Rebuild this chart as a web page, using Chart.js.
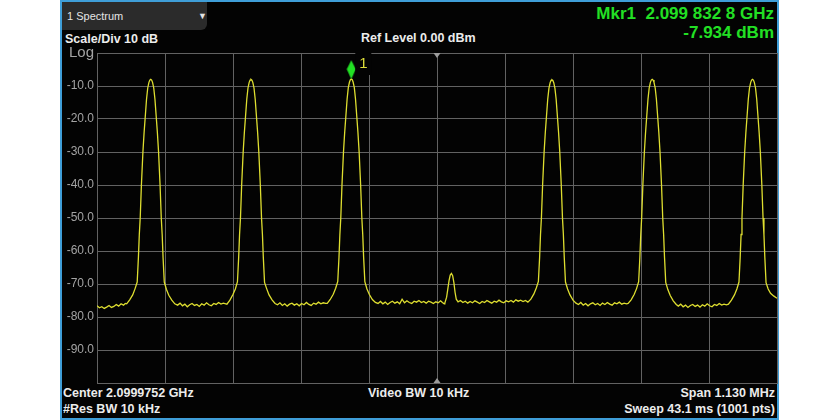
<!DOCTYPE html>
<html>
<head>
<meta charset="utf-8">
<script src="https://cdn.jsdelivr.net/npm/chart.js@4.4.1/dist/chart.umd.min.js"></script>
<style>
  html, body { margin:0; padding:0; background:#fff; }
  #wrap { position:relative; width:840px; height:420px; overflow:hidden; font-family:"Liberation Sans", Arial, sans-serif; }
  #panel { position:absolute; left:60px; top:0; width:719px; height:420px; box-sizing:border-box; border:2px solid #3f9ed8; background:#030303; }
  #chart { position:absolute; left:0; top:0; }
  .t { position:absolute; white-space:pre; color:#ececec; font-weight:bold; }
  .mk { color:#22e024; font-size:17px; line-height:20px; }
  #tab { position:absolute; left:62px; top:2px; width:145px; height:28px; background:#2b2b2b; border-bottom-right-radius:6px; }
</style>
</head>
<body>
<div id="wrap">
  <div id="panel"></div>
  <div id="tab"></div>
  <div class="t" style="left:67px;top:9px;font-size:11px;line-height:14px;font-weight:normal;color:#e4e4e4;">1 Spectrum</div>
  <div class="t" style="left:198px;top:10px;font-size:9px;line-height:12px;color:#e4e4e4;">▼</div>
  <div class="t" style="left:65px;top:31px;font-size:12.5px;line-height:16px;">Scale/Div 10 dB</div>
  <div class="t" style="left:361px;top:30px;font-size:12.5px;line-height:16px;">Ref Level 0.00 dBm</div>
  <div class="t mk" style="right:66px;top:4px;">Mkr1  2.099 832 8 GHz</div>
  <div class="t mk" style="right:66px;top:23px;">-7.934 dBm</div>
  <div class="t" style="left:63px;top:385px;font-size:12.5px;line-height:16px;">Center 2.0999752 GHz</div>
  <div class="t" style="left:63px;top:401px;font-size:12.5px;line-height:16px;">#Res BW 10 kHz</div>
  <div class="t" style="left:368px;top:385px;font-size:12.5px;line-height:16px;">Video BW 10 kHz</div>
  <div class="t" style="right:65px;top:385px;font-size:12.5px;line-height:16px;">Span 1.130 MHz</div>
  <div class="t" style="right:65px;top:401px;font-size:12.5px;line-height:16px;">Sweep 43.1 ms (1001 pts)</div>
  <canvas id="chart" width="840" height="420"></canvas>
</div>
<script>
// frequency offset from center (kHz), level (dBm)
const floorLeft = [[-565,-76.6],[-561,-77.2],[-557,-76.9],[-553,-77.4],[-549,-77.0],[-545,-76.5],[-541,-77.1],[-537,-76.8],[-533,-76.2],[-529,-76.7],[-525,-76.0],[-521,-76.4],[-518,-75.9]];
const peak1 = [[-515.7,-76.0],[-510.7,-74.8],[-505.7,-73.3],[-501.7,-71.4],[-498.2,-69.4],[-496.2,-62.0],[-494.7,-55.0],[-493.2,-50.0],[-491.2,-40.0],[-488.7,-30.0],[-486.7,-24.0],[-484.7,-19.0],[-482.7,-14.0],[-480.7,-10.6],[-478.7,-8.9],[-477.2,-8.2],[-475.7,-8.0],[-474.2,-8.2],[-472.7,-8.9],[-470.7,-10.6],[-468.7,-14.0],[-466.7,-19.0],[-464.7,-24.0],[-462.7,-30.0],[-460.2,-40.0],[-458.2,-50.0],[-456.7,-55.0],[-455.2,-62.0],[-453.2,-69.4],[-449.7,-71.6],[-445.7,-73.4],[-440.7,-74.9],[-435.7,-76.0]];
const floor12 = [[-431,-76.4],[-427,-75.8],[-423,-76.6],[-419,-76.1],[-415,-76.9],[-411,-76.3],[-407,-75.9],[-403,-76.5],[-399,-76.2],[-395,-76.8],[-391,-76.0],[-387,-76.4],[-383,-75.7],[-379,-76.3],[-375,-76.6],[-371,-75.9],[-367,-76.2],[-363,-75.6],[-359,-76.1],[-355,-75.8],[-351,-76.0]];
const peak2 = [[-349.1,-76.1],[-344.1,-74.9],[-339.1,-73.2],[-335.1,-71.5],[-331.6,-69.3],[-329.6,-62.0],[-328.1,-55.0],[-326.6,-50.0],[-324.6,-40.0],[-322.1,-30.0],[-320.1,-24.0],[-318.1,-19.0],[-316.1,-14.0],[-314.1,-10.6],[-312.1,-8.9],[-310.6,-8.2],[-309.1,-8.0],[-307.6,-8.2],[-306.1,-8.9],[-304.1,-10.6],[-302.1,-14.0],[-300.1,-19.0],[-298.1,-24.0],[-296.1,-30.0],[-293.6,-40.0],[-291.6,-50.0],[-290.1,-55.0],[-288.6,-62.0],[-286.6,-69.5],[-283.1,-71.4],[-279.1,-73.3],[-274.1,-74.8],[-269.1,-75.9]];
const floor23 = [[-265,-76.3],[-261,-75.7],[-257,-76.5],[-253,-76.0],[-249,-76.7],[-245,-76.1],[-241,-75.8],[-237,-76.4],[-233,-76.0],[-229,-76.6],[-225,-75.9],[-221,-76.3],[-217,-75.6],[-213,-76.2],[-209,-76.5],[-205,-75.8],[-201,-76.1],[-197,-75.5],[-193,-76.0],[-189,-75.7],[-185,-75.9]];
const peak3 = [[-182.4,-75.9],[-177.4,-74.7],[-172.4,-73.1],[-168.4,-71.3],[-164.9,-69.2],[-162.9,-62.0],[-161.4,-55.0],[-159.9,-50.0],[-157.9,-40.0],[-155.4,-30.0],[-153.4,-24.0],[-151.4,-19.0],[-149.4,-14.0],[-147.4,-10.5],[-145.4,-8.8],[-143.9,-8.1],[-142.4,-7.9],[-140.9,-8.1],[-139.4,-8.8],[-137.4,-10.5],[-135.4,-14.0],[-133.4,-19.0],[-131.4,-24.0],[-129.4,-30.0],[-126.9,-40.0],[-124.9,-50.0],[-123.4,-55.0],[-121.9,-62.0],[-119.9,-69.3],[-116.4,-71.5],[-112.4,-73.2],[-107.4,-74.7],[-102.4,-75.6]];
const floorMid = [[-98,-75.9],[-94,-75.3],[-90,-76.0],[-86,-75.5],[-82,-76.2],[-78,-75.6],[-74,-75.2],[-70,-75.8],[-66,-75.4],[-62,-76.0],[-58,-74.6],[-54,-75.7],[-50,-75.1],[-46,-75.6],[-42,-75.9],[-38,-75.2],[-34,-75.5],[-30,-75.0],[-26,-75.6],[-22,-75.3],[-18,-75.8],[-14,-75.2],[-10,-75.5],[-6,-75.9],[-2,-75.4],[2,-75.7],[6,-75.1],[9,-75.6],[12,-76.0]];
const spur = [[13,-75.8],[16,-74.0],[18,-71.5],[20,-69.0],[22,-67.3],[24,-66.8],[26,-67.5],[28,-69.5],[30,-72.5],[32,-74.6],[35,-75.4]];
const floor34 = [[39,-75.0],[43,-75.6],[47,-75.2],[51,-75.8],[55,-75.3],[59,-75.7],[63,-75.1],[67,-75.5],[71,-75.9],[75,-75.3],[79,-75.6],[83,-75.0],[87,-75.4],[91,-75.8],[95,-75.2],[99,-75.5],[103,-74.9],[107,-75.4],[111,-75.7],[115,-75.1],[119,-75.4],[123,-75.0],[127,-75.5],[131,-74.8],[135,-75.2],[139,-74.9],[143,-75.3],[147,-75.0]];
const peak4 = [[151.0,-75.5],[156.0,-74.6],[161.0,-73.0],[165.0,-71.2],[168.5,-69.2],[170.5,-62.0],[172.0,-55.0],[173.5,-50.0],[175.5,-40.0],[178.0,-30.0],[180.0,-24.0],[182.0,-19.0],[184.0,-14.0],[186.0,-10.7],[188.0,-9.0],[189.5,-8.3],[191.0,-8.1],[192.5,-8.3],[194.0,-9.0],[196.0,-10.7],[198.0,-14.0],[200.0,-19.0],[202.0,-24.0],[204.0,-30.0],[206.5,-40.0],[208.5,-50.0],[210.0,-55.0],[211.5,-62.0],[213.5,-69.4],[217.0,-71.5],[221.0,-73.3],[226.0,-74.9],[231.0,-75.8]];
const floor45 = [[235,-76.2],[239,-75.6],[243,-76.4],[247,-75.9],[251,-76.6],[255,-76.0],[259,-75.7],[263,-76.3],[267,-75.9],[271,-76.5],[275,-75.8],[279,-76.2],[283,-75.6],[287,-76.1],[291,-76.4],[295,-75.7],[299,-76.0],[303,-75.5],[307,-76.1],[311,-75.8],[315,-76.0]];
const peak5 = [[317.6,-75.9],[322.6,-74.8],[327.6,-73.2],[331.6,-71.4],[335.1,-69.3],[337.1,-62.0],[338.6,-55.0],[340.1,-50.0],[342.1,-40.0],[344.6,-30.0],[346.6,-24.0],[348.6,-19.0],[350.6,-14.0],[352.6,-10.6],[354.6,-8.9],[356.1,-8.2],[357.6,-8.0],[359.1,-8.2],[360.6,-8.9],[362.6,-10.6],[364.6,-14.0],[366.6,-19.0],[368.6,-24.0],[370.6,-30.0],[373.1,-40.0],[375.1,-50.0],[376.6,-55.0],[378.1,-62.0],[380.1,-69.5],[383.6,-71.7],[387.6,-73.5],[392.6,-75.1],[397.6,-76.2]];
const floor56 = [[401,-76.7],[405,-76.1],[409,-76.9],[413,-76.4],[417,-77.1],[421,-76.5],[425,-76.2],[429,-76.8],[433,-76.4],[437,-77.0],[441,-76.3],[445,-76.7],[449,-76.0],[453,-76.6],[457,-76.9],[461,-76.2],[465,-76.5],[469,-75.9],[473,-76.4],[477,-76.1],[481,-76.3]];
const peak6 = [[484.3,-76.1],[489.3,-74.9],[494.3,-73.3],[498.3,-71.5],[501.8,-69.4],[503.8,-62.0],[505.3,-55.0],[506.8,-50.0],[508.8,-40.0],[511.3,-30.0],[513.3,-24.0],[515.3,-19.0],[517.3,-14.0],[519.3,-10.6],[521.3,-8.9],[522.8,-8.2],[524.3,-8.0],[525.8,-8.2],[527.3,-8.9],[529.3,-10.6],[531.3,-14.0],[533.3,-19.0],[535.3,-24.0],[537.3,-30.0],[539.8,-40.0],[541.8,-50.0],[543.3,-55.0],[544.8,-62.0],[546.8,-69.6],[550.3,-71.5],[554.3,-72.8],[559.3,-73.6],[565,-74.3]];

// marker 1
const mkrKHz = -142.4;
const mkrDbm = -7.934;
const mkrLabel = '1';

// axes: span 1.130 MHz -> 10 div of 113 kHz, ref 0 dBm, 10 dB/div
const spanHalf = 565;
const yTicksMin = -100, yTicksMax = 0;

const trace = [].concat(floorLeft, peak1, floor12, peak2, floor23, peak3, floorMid, spur,
  floor34, peak4, floor45, peak5, floor56, peak6).map(p => ({x: p[0], y: p[1]}));

// tall diamond image, bottom tip sits on the point
function diamond() {
  const c = document.createElement('canvas');
  c.width = 10; c.height = 40;
  const g = c.getContext('2d');
  g.fillStyle = '#22e024';
  g.beginPath();
  g.moveTo(5, 1); g.lineTo(9.5, 10); g.lineTo(5, 20); g.lineTo(0.5, 10);
  g.closePath(); g.fill();
  return c;
}

const overlay = {
  id: 'overlay',
  afterDatasetsDraw(chart) {
    const {ctx, chartArea: a, scales: {x, y}} = chart;
    const cx = x.getPixelForValue(0);
    ctx.save();
    ctx.fillStyle = '#9c9c9c';
    ctx.beginPath(); ctx.moveTo(cx-3.5, a.top); ctx.lineTo(cx+3.5, a.top); ctx.lineTo(cx, a.top+5); ctx.fill();
    ctx.beginPath(); ctx.moveTo(cx-3.5, a.bottom); ctx.lineTo(cx+3.5, a.bottom); ctx.lineTo(cx, a.bottom-5); ctx.fill();
    // marker number with its black backing
    const mx = x.getPixelForValue(mkrKHz), my = y.getPixelForValue(mkrDbm);
    ctx.fillStyle = '#030303';
    ctx.fillRect(mx+4, a.top-2, 16, 24);
    ctx.fillStyle = '#dcdc3a';
    ctx.font = '15px "Liberation Sans", Arial';
    ctx.textBaseline = 'middle';
    ctx.fillText(mkrLabel, mx+8, my-15);
    ctx.restore();
  }
};

const gridCol = '#626262';

new Chart(document.getElementById('chart'), {
  type: 'scatter',
  data: {
    datasets: [
      { data: [{x: mkrKHz, y: mkrDbm}], pointStyle: diamond(), pointRadius: 6 },
      { data: trace, showLine: true, borderColor: '#dede30', borderWidth: 1.3, pointRadius: 0 }
    ]
  },
  options: {
    responsive: false,
    animation: false,
    events: [],
    layout: { padding: { left: 62, right: 63, top: 53, bottom: 0 } },
    plugins: { legend: { display: false }, tooltip: { enabled: false } },
    scales: {
      x: {
        type: 'linear', min: -spanHalf, max: spanHalf,
        ticks: { stepSize: 113, display: false },
        grid: { color: gridCol, drawTicks: false },
        border: { color: gridCol },
        afterFit: s => { s.height = 37; }
      },
      y: {
        min: yTicksMin, max: yTicksMax,
        ticks: {
          stepSize: 10, padding: 3, color: '#a4a4a4',
          font: c => ({ family: '"Liberation Sans", Arial', size: c.tick && c.tick.value === 0 ? 15 : 12 }),
          callback: v => v === 0 ? 'Log' : (v === -100 ? '' : v.toFixed(1))
        },
        grid: { color: gridCol, drawTicks: false },
        border: { color: gridCol },
        afterFit: s => { s.width = 35; }
      }
    }
  },
  plugins: [overlay]
});
</script>
</body>
</html>
